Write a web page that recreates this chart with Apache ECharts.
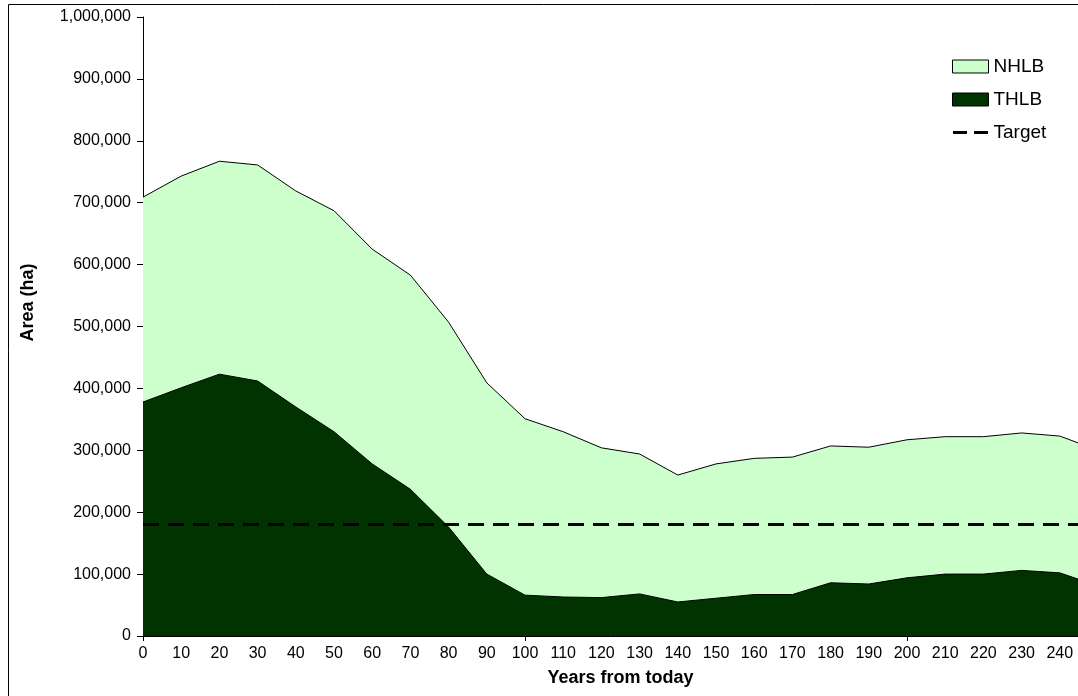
<!DOCTYPE html>
<html>
<head>
<meta charset="utf-8">
<script src="https://cdn.jsdelivr.net/npm/echarts@6/dist/echarts.min.js"></script>
<style>
  html, body { margin: 0; padding: 0; background: #fff; }
  #chart { width: 1078px; height: 696px; }
</style>
</head>
<body>
<div id="chart"></div>
<script>
// years from today (last point sits just past the visible edge)
var years = ["0", "10", "20", "30", "40", "50", "60", "70", "80", "90", "100", "110", "120", "130", "140", "150", "160", "170", "180", "190", "200", "210", "220", "230", "240", "250"];
var thlb = [378000, 401000, 423000, 412000, 370000, 330000, 278000, 237000, 176000, 100000, 66000, 63000, 62000, 68000, 55000, 61000, 67000, 67000, 86000, 84000, 94000, 100000, 100000, 106000, 102000, 81000];
var nhlb = [331000, 342000, 344000, 349000, 349000, 357000, 347000, 346000, 331000, 309000, 285000, 267000, 242000, 226000, 205000, 217000, 220000, 222000, 221000, 221000, 223000, 222000, 222000, 222000, 221000, 219000];
var target = 180000;

var font = "'Liberation Sans', Arial, sans-serif";

var myChart = echarts.init(document.getElementById("chart"));
var option = {
  animation: false,
  textStyle: { fontFamily: font },
  // plot runs on past the cut-off right edge
  grid: { left: 143, top: 17, width: 955, bottom: 60, outerBoundsMode: "none", containLabel: false },
  graphic: [
    {
      type: "rect",
      shape: { x: 8.5, y: 4.5, width: 1200, height: 800 },
      style: { fill: "none", stroke: "#000", lineWidth: 1 },
      silent: true
    }
  ],
  legend: {
    orient: "vertical",
    left: 952,
    top: 57,
    padding: 0,
    itemWidth: 36,
    itemHeight: 13,
    itemGap: 14,
    textStyle: { fontSize: 19, color: "#000", fontFamily: font },
    data: [
      { name: "NHLB", icon: "rect", itemStyle: { borderColor: "#000", borderWidth: 1 } },
      { name: "THLB", icon: "rect", itemStyle: { borderColor: "#000", borderWidth: 1 } },
      { name: "Target", icon: "path://M0,0 M0,13 M0,5 h14 v3 h-14 z M21,5 h14 v3 h-14 z", itemStyle: { color: "#000", borderWidth: 0 } }
    ]
  },
  xAxis: {
    type: "category",
    data: years,
    boundaryGap: false,
    name: "Years from today",
    nameLocation: "middle",
    nameGap: 33,
    nameTextStyle: { fontSize: 18, fontWeight: "bold", color: "#000" },
    axisLine: { lineStyle: { color: "#000" } },
    axisTick: {
      show: true,
      length: 5,
      interval: function (i) { return i % 10 === 0; },
      lineStyle: { color: "#000" }
    },
    axisLabel: { interval: 0, fontSize: 16, color: "#000", margin: 10 },
    splitLine: { show: false }
  },
  yAxis: {
    type: "value",
    min: 0,
    max: 1000000,
    interval: 100000,
    name: "Area (ha)",
    nameLocation: "middle",
    nameGap: 106,
    nameTextStyle: { fontSize: 18, fontWeight: "bold", color: "#000", padding: [0, 0, 0, 48] },
    axisLine: { show: true, lineStyle: { color: "#000" } },
    axisTick: { show: true, length: 6, lineStyle: { color: "#000" } },
    axisLabel: {
      fontSize: 16,
      color: "#000",
      margin: 12,
      formatter: function (v) { return v.toLocaleString("en-US"); }
    },
    splitLine: { show: false }
  },
  series: [
    {
      name: "THLB",
      type: "line",
      stack: "area",
      symbol: "none",
      data: thlb,
      itemStyle: { color: "#003300" },
      lineStyle: { color: "#000", width: 1 },
      areaStyle: { color: "#003300", opacity: 1 },
      z: 2
    },
    {
      name: "NHLB",
      type: "line",
      stack: "area",
      symbol: "none",
      data: nhlb,
      itemStyle: { color: "#ccffcc" },
      lineStyle: { color: "#000", width: 1 },
      areaStyle: { color: "#ccffcc", opacity: 1 },
      z: 1
    },
    {
      name: "Target",
      type: "line",
      symbol: "none",
      data: years.map(function () { return target; }),
      itemStyle: { color: "#000" },
      lineStyle: { color: "#000", width: 3, type: [16, 9] },
      z: 3
    }
  ]
};

option && myChart.setOption(option);
</script>
</body>
</html>
